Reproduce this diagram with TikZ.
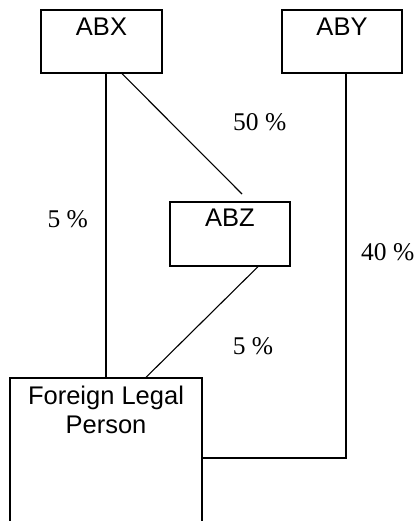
\documentclass[tikz,border=0pt]{standalone}
\usepackage{fontspec}
\newfontfamily\boxfont{Liberation Sans}
\newfontfamily\pctfont{Liberation Serif}
\begin{document}
\begin{tikzpicture}[x=1pt,y=-1pt,
  entity/.style={draw,line width=1.3pt,rectangle,inner sep=0pt},
  boxtext/.style={font=\boxfont\fontsize{25.5}{29}\selectfont,inner sep=0pt,anchor=center},
  pct/.style={font=\pctfont\fontsize{25.5}{29}\selectfont,inner sep=0pt,anchor=center},
  link/.style={line width=1.1pt}]
\clip (0,0) rectangle (415,521);
\fill[white] (0,0) rectangle (415,521);
\node[entity,minimum width=121pt,minimum height=63pt,
  label={[boxtext,name=tABX,yshift=-17pt]north:ABX}] (ABX) at (101.5,41.5) {};
\node[entity,minimum width=120pt,minimum height=63pt,
  label={[boxtext,name=tABY,yshift=-17pt]north:ABY}] (ABY) at (342,41.5) {};
\node[entity,minimum width=120pt,minimum height=64pt,
  label={[boxtext,name=tABZ,yshift=-16.3pt]north:ABZ}] (ABZ) at (230,234) {};
\node[entity,minimum width=192pt,minimum height=182pt,
  label={[boxtext,name=tFLP,align=center,anchor=north,yshift=-8.7pt]north:Foreign Legal\\Person}] (FLP) at (106,469) {};
\coordinate (e1) at (242,194);
\draw[link] (ABX.south -| FLP.north) -- (FLP.north);
\draw[link] ([xshift=20.5pt]ABX.south) -- (e1);
\draw[link] ([xshift=28pt]ABZ.south) -- ([xshift=40pt]FLP.north);
\draw[link] ([xshift=4pt]ABY.south) |- ([yshift=11pt]FLP.east);
\node[pct] (p50) at (259.7,122.5) {50 \%};
\node[pct] (p5a) at (67.8,218.7) {5 \%};
\node[pct] (p40) at (387.8,251.7) {40 \%};
\node[pct] (p5b) at (253,345.8) {5 \%};
\end{tikzpicture}
\end{document}
